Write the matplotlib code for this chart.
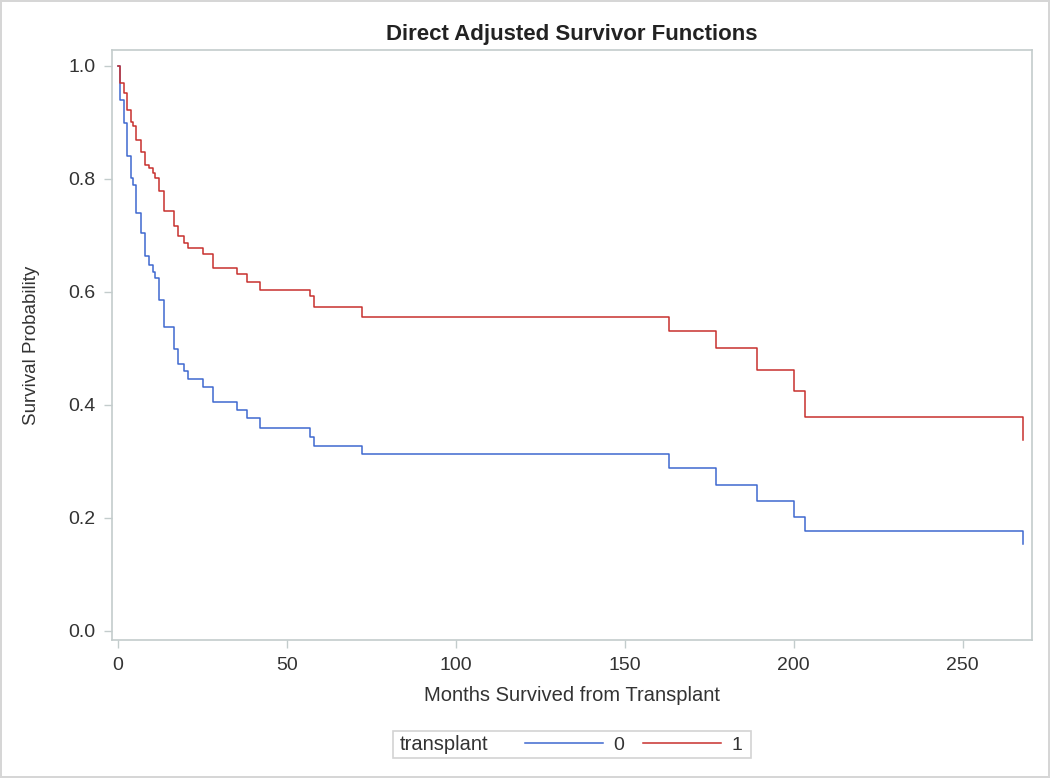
import matplotlib
matplotlib.use('agg')
import matplotlib.pyplot as plt
from matplotlib.lines import Line2D
from matplotlib.patches import Rectangle

# event times (months) shared by both adjusted curves
months = [0, 0.6, 1.8, 2.7, 3.7, 4.5, 5.3, 6.7, 8.0, 9.0, 10.2, 11.0, 12.1, 13.7,
          16.6, 17.8, 19.6, 20.8, 25.0, 28.1, 35.2, 38.2, 42.0, 56.9, 57.9, 72.2,
          163.0, 177.0, 189.1, 200.2, 203.3, 267.9]

surv_0 = [1.0, 0.940, 0.899, 0.840, 0.801, 0.789, 0.739, 0.704, 0.663, 0.648, 0.636,
          0.624, 0.586, 0.537, 0.499, 0.472, 0.460, 0.446, 0.431, 0.405, 0.391, 0.376,
          0.359, 0.344, 0.327, 0.313, 0.288, 0.258, 0.230, 0.202, 0.176, 0.154]

surv_1 = [1.0, 0.969, 0.952, 0.921, 0.901, 0.894, 0.868, 0.848, 0.825, 0.819, 0.810,
          0.802, 0.778, 0.743, 0.716, 0.699, 0.687, 0.677, 0.667, 0.643, 0.632, 0.617,
          0.603, 0.592, 0.574, 0.556, 0.531, 0.500, 0.462, 0.425, 0.379, 0.338]

groups = ['0', '1']
colors = ['#3f68cf', '#c8302e']
x_ticks = [0, 50, 100, 150, 200, 250]
y_ticks = [0.0, 0.2, 0.4, 0.6, 0.8, 1.0]

plt.rcParams['font.family'] = ['Liberation Sans', 'DejaVu Sans']
frame_col = '#c3cccc'
text_col = '#333333'

fig = plt.figure(figsize=(10.5, 7.78), dpi=100)
fig.patch.set_edgecolor('#d6d6d6')
fig.patch.set_linewidth(1.5)
ax = fig.add_axes([0.1067, 0.1774, 0.8763, 0.7583])

for surv, col in zip([surv_0, surv_1], colors):
    ax.step(months, surv, where='post', color=col, linewidth=1.1)

ax.set_xlim(-1.8, 270.6)
ax.set_ylim(-0.016, 1.028)
ax.set_xticks(x_ticks)
ax.set_yticks(y_ticks)
ax.set_yticklabels([f'{v:.1f}' for v in y_ticks])
for s in ax.spines.values():
    s.set_color(frame_col)
    s.set_linewidth(1.2)
ax.tick_params(direction='out', length=6, width=1, color=frame_col,
               labelsize=14, labelcolor=text_col, pad=6)

ax.set_xlabel('Months Survived from Transplant', fontsize=14.5, color=text_col, labelpad=9)
ax.set_ylabel('Survival Probability', fontsize=13.5, color=text_col, labelpad=20)
ax.set_title('Direct Adjusted Survivor Functions', fontsize=16, fontweight='bold',
             color='#222222', pad=7)

# legend: group title on the left, two line entries, one box around all
handles = [Line2D([], [], color=c, linewidth=1.1) for c in colors]
leg = fig.legend(handles, groups, ncol=2, loc='center left', bbox_to_anchor=(0.5, 0.0424),
                 frameon=False, fontsize=14, handlelength=4.0, handletextpad=0.55,
                 columnspacing=0.95, borderpad=0, borderaxespad=0)
for t in leg.get_texts():
    t.set_color(text_col)
fig.text(0.381, 0.0435, 'transplant', fontsize=14.5, color=text_col, va='center', ha='left')
fig.patches.append(Rectangle((0.374, 0.026), 0.341, 0.034, transform=fig.transFigure,
                             fill=False, edgecolor='#d3d3d3', linewidth=1.2))

fig.savefig('out.png', dpi=100)
